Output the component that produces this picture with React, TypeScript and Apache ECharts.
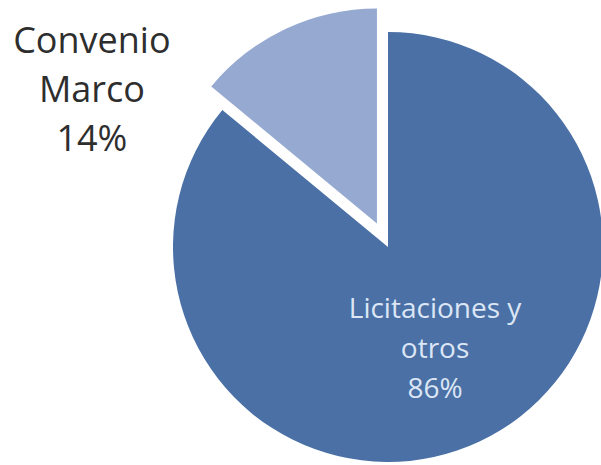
import React, { useEffect, useRef } from "react";
import * as echarts from "echarts";

const categories = ["Licitaciones y\notros", "Convenio\nMarco"];
const values = [86, 14];
const colors = ["#4a70a6", "#95a9d1"];

export default function App() {
  const ref = useRef<HTMLDivElement>(null);
  useEffect(() => {
    const chart = echarts.init(ref.current!, null, { renderer: "svg" });
    chart.setOption({
      animation: false,
      backgroundColor: "#ffffff",
      series: [
        {
          type: "pie",
          center: [388, 247],
          radius: 215,
          startAngle: 90,
          clockwise: true,
          selectedMode: "single",
          selectedOffset: 26,
          avoidLabelOverlap: false,
          emphasis: { disabled: true },
          labelLine: { show: false },
          data: categories.map((name, i) => ({
            name,
            value: values[i],
            selected: i === 1,
            itemStyle: { color: colors[i] },
            label:
              i === 0
                ? {
                    position: "inside",
                    color: "#dce6f5",
                    fontSize: 28,
                    lineHeight: 40,
                    fontFamily: "Open Sans",
                  }
                : {
                    position: "inside",
                    color: "#2e2e2e",
                    fontSize: 36,
                    lineHeight: 49,
                    fontFamily: "Open Sans",
                  },
          })),
          label: {
            show: true,
            align: "center",
            verticalAlign: "middle",
            formatter: (p: any) => `${p.name}\n${Math.round(p.percent)}%`,
          },
          labelLayout: (p: any) =>
            p.dataIndex === 1 ? { dx: -238, dy: -35 } : {},
        },
      ],
    });
    return () => chart.dispose();
  }, []);
  return (
    <div
      ref={ref}
      style={{ position: "absolute", left: 0, top: 0, width: 601, height: 465 }}
    />
  );
}
